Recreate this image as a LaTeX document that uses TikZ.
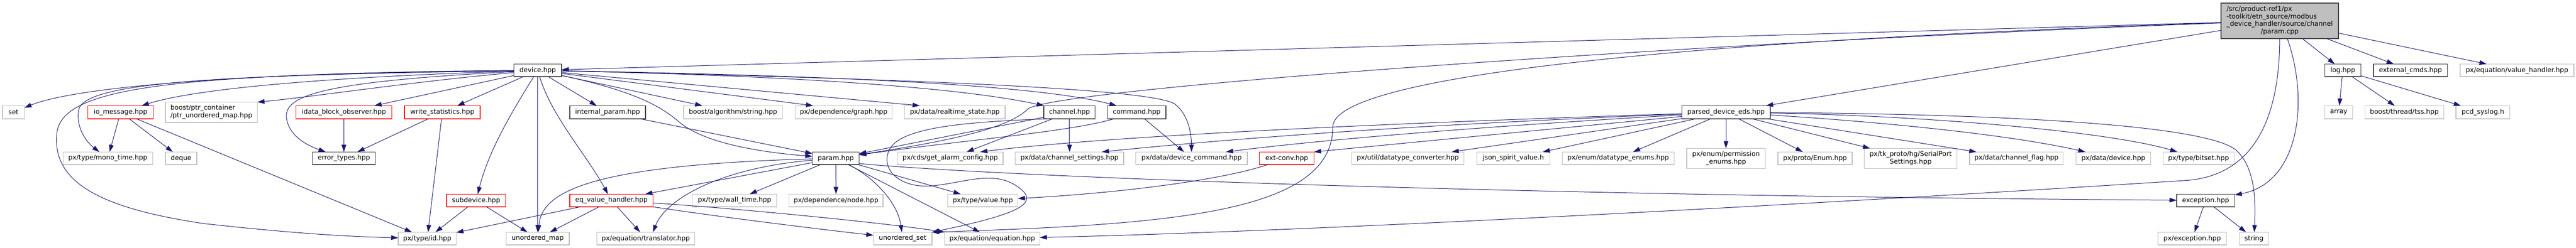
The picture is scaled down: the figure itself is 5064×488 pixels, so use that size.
\documentclass[tikz,border=0pt]{standalone}
\usepackage{fontspec}
\setmainfont{DejaVu Sans}[Ligatures=NoCommon]
\usetikzlibrary{arrows.meta,calc}
\definecolor{midblue}{HTML}{191970}
\definecolor{gborder}{HTML}{BFBFBF}
\definecolor{dborder}{HTML}{404040}
\definecolor{mainfill}{HTML}{BFBFBF}
\newcommand\mknode[7]{%
  \pgfmathsetmacro\cxx{(#3+#4)/2}%
  \pgfmathsetmacro\cyy{(#5+#6)/2}%
  \pgfmathsetmacro\www{#4-#3}%
  \pgfmathsetmacro\hhh{#6-#5}%
  \node[#1,minimum width=\www pt,minimum height=\hhh pt] (#2) at (\cxx,\cyy) {#7};}
\newcommand\twol[2]{\begin{tabular}{@{}l@{}}#1\\\multicolumn{1}{@{}c@{}}{#2}\end{tabular}}
\tikzset{
  basenode/.style={rectangle,inner sep=0pt,outer sep=0pt,line width=1.3pt,font=\fontsize{13}{15}\selectfont,text=black},
  extnode/.style={basenode,draw=gborder,fill=white},
  docnode/.style={basenode,draw=dborder,fill=white},
  trnode/.style={basenode,draw=red,fill=white},
  mainnode/.style={basenode,draw=dborder,fill=mainfill},
  dep/.style={draw=midblue,line width=1pt,-{Triangle[length=14pt,width=9pt]}}
}
\begin{document}
\begin{tikzpicture}[x=1pt,y=-1pt]
\fill[white] (0,0) rectangle (5064,488);
\useasboundingbox (0,0) rectangle (5064,488);
% edges drawn after nodes via layers: draw nodes first, edges, then nodes on top is unnecessary
% ---- row A
\mknode{mainnode}{main}{4366}{4597}{6}{76}{\begin{tabular}{@{}l@{}}/src/product-ref1/px\\-toolkit/etn\_source/modbus\\\_device\_handler/source/channel\\\multicolumn{1}{@{}c@{}}{/param.cpp}\end{tabular}}
% ---- row B
\mknode{docnode}{device}{1010}{1104}{126}{151}{device.hpp}
\mknode{docnode}{log}{4570}{4641}{126}{151}{log.hpp}
\mknode{docnode}{extcmds}{4666}{4811}{126}{151}{external\_cmds.hpp}
\mknode{extnode}{valh}{4836}{5060}{126}{151}{px/equation/value\_handler.hpp}
% ---- row C
\mknode{extnode}{set}{5}{48}{208}{234}{set}
\mknode{trnode}{iomsg}{173}{301}{208}{234}{io\_message.hpp}
\mknode{extnode}{ptr}{325}{506}{201}{241}{\twol{boost/ptr\_container}{/ptr\_unordered\_map.hpp}}
\mknode{trnode}{idata}{582}{770}{208}{234}{idata\_block\_observer.hpp}
\mknode{trnode}{wstat}{795}{944}{208}{234}{write\_statistics.hpp}
\mknode{docnode}{iparam}{1120}{1269}{208}{234}{internal\_param.hpp}
\mknode{extnode}{bstr}{1344}{1538}{208}{234}{boost/algorithm/string.hpp}
\mknode{extnode}{graph}{1563}{1754}{208}{234}{px/dependence/graph.hpp}
\mknode{extnode}{rts}{1778}{1976}{208}{234}{px/data/realtime\_state.hpp}
\mknode{docnode}{channel}{2052}{2153}{208}{234}{channel.hpp}
\mknode{docnode}{command}{2177}{2292}{208}{234}{command.hpp}
\mknode{docnode}{parsed}{3306}{3480}{208}{234}{parsed\_device\_eds.hpp}
\mknode{extnode}{array}{4570}{4625}{208}{234}{array}
\mknode{extnode}{tss}{4649}{4804}{208}{234}{boost/thread/tss.hpp}
\mknode{extnode}{syslog}{4828}{4934}{208}{234}{pcd\_syslog.h}
% ---- row D
\mknode{extnode}{mono}{124}{300}{299}{324}{px/type/mono\_time.hpp}
\mknode{extnode}{deque}{325}{387}{299}{324}{deque}
\mknode{docnode}{errt}{614}{738}{299}{324}{error\_types.hpp}
\mknode{docnode}{param}{1597}{1689}{299}{324}{param.hpp}
\mknode{extnode}{gac}{1764}{1972}{299}{324}{px/cds/get\_alarm\_config.hpp}
\mknode{extnode}{chs}{1996}{2209}{299}{324}{px/data/channel\_settings.hpp}
\mknode{extnode}{dcmd}{2233}{2452}{299}{324}{px/data/device\_command.hpp}
\mknode{trnode}{extconv}{2476}{2583}{299}{324}{ext-conv.hpp}
\mknode{extnode}{dtc}{2657}{2878}{299}{324}{px/util/datatype\_converter.hpp}
\mknode{extnode}{json}{2903}{3047}{299}{324}{json\_spirit\_value.h}
\mknode{extnode}{dte}{3071}{3291}{299}{324}{px/enum/datatype\_enums.hpp}
\mknode{extnode}{perm}{3316}{3470}{292}{332}{\twol{px/enum/permission}{\_enums.hpp}}
\mknode{extnode}{penum}{3495}{3641}{299}{324}{px/proto/Enum.hpp}
\mknode{extnode}{serial}{3665}{3847}{292}{332}{\twol{px/tk\_proto/hg/SerialPort}{Settings.hpp}}
\mknode{extnode}{chflag}{3872}{4056}{299}{324}{px/data/channel\_flag.hpp}
\mknode{extnode}{pdev}{4081}{4228}{299}{324}{px/data/device.hpp}
\mknode{extnode}{bitset}{4252}{4392}{299}{324}{px/type/bitset.hpp}
% ---- row E
\mknode{trnode}{subdev}{878}{994}{382}{407}{subdevice.hpp}
\mknode{trnode}{eqvh}{1120}{1284}{382}{407}{eq\_value\_handler.hpp}
\mknode{extnode}{wall}{1361}{1527}{382}{407}{px/type/wall\_time.hpp}
\mknode{extnode}{dnode}{1551}{1736}{382}{407}{px/dependence/node.hpp}
\mknode{extnode}{value}{1863}{2001}{382}{407}{px/type/value.hpp}
\mknode{docnode}{exc}{4279}{4393}{382}{407}{exception.hpp}
% ---- row F
\mknode{extnode}{pxid}{783}{897}{457}{482}{px/type/id.hpp}
\mknode{extnode}{umap}{995}{1119}{457}{482}{unordered\_map}
\mknode{extnode}{transl}{1173}{1366}{457}{482}{px/equation/translator.hpp}
\mknode{extnode}{uset}{1717}{1832}{457}{482}{unordered\_set}
\mknode{extnode}{equ}{1857}{2044}{457}{482}{px/equation/equation.hpp}
\mknode{extnode}{pxexc}{4242}{4377}{457}{482}{px/exception.hpp}
\mknode{extnode}{string}{4402}{4460}{457}{482}{string}

% ================= edges
% main
\draw[dep] (main) -- (device);
\draw[dep] (main) .. controls (3300,85) and (2060,175) .. (2020,215) .. controls (1980,255) and (1850,280) .. (param);
\draw[dep] (main) .. controls (3300,80) and (2620,150) .. (2620,250) .. controls (2620,420) and (2300,442) .. (uset.north east);
\draw[dep] (main) -- (parsed);
\draw[dep] (main.south) .. controls (4481,250) and (4420,345) .. (4300,355) .. controls (3600,400) and (2600,455) .. (equ);
\draw[dep] ($(main.south)+(15,0)$) .. controls (4540,200) and (4520,360) .. (exc);
\draw[dep] (main) -- (log);
\draw[dep] (main) -- (extcmds);
\draw[dep] (main) -- (valh);
\draw[dep] (log) -- (array);
\draw[dep] (log) -- (tss);
\draw[dep] (log) -- (syslog);
\draw[dep] (exc) -- (pxexc);
\draw[dep] (exc) -- (string);
% parsed
\draw[dep] (parsed) .. controls (2800,240) and (2200,265) .. ($(gac.north east)+(-45,0)$);
\draw[dep] (parsed) .. controls (2800,245) and (2450,270) .. ($(chs.north east)+(-43,0)$);
\draw[dep] (parsed) .. controls (2900,250) and (2600,275) .. ($(dcmd.north east)+(-42,0)$);
\draw[dep] (parsed) -- (extconv.north east);
\draw[dep] (parsed) -- (dtc);
\draw[dep] (parsed) -- (json);
\draw[dep] (parsed) -- (dte);
\draw[dep] (parsed) -- (perm);
\draw[dep] (parsed) -- (penum);
\draw[dep] (parsed) -- (serial);
\draw[dep] (parsed) -- (chflag);
\draw[dep] (parsed) .. controls (3700,240) and (3950,265) .. (pdev);
\draw[dep] (parsed) .. controls (3800,228) and (4150,260) .. (bitset);
\draw[dep] (parsed) .. controls (4000,225) and (4340,250) .. (4395,295) .. controls (4435,330) and (4434,400) .. (string);
\draw[dep] (extconv) .. controls (2400,355) and (2200,380) .. (value);
% device
\draw[dep] (device) .. controls (500,142) and (150,170) .. (set);
\draw[dep] (device) .. controls (700,150) and (400,170) .. (iomsg);
\draw[dep] (device) .. controls (800,162) and (620,190) .. (ptr.north east);
\draw[dep] (device) -- (idata);
\draw[dep] (device) -- (wstat);
\draw[dep] (device) .. controls (450,148) and (170,160) .. (155,215) .. controls (148,250) and (170,280) .. (mono);
\draw[dep] (device) .. controls (350,146) and (125,170) .. (112,260) .. controls (100,360) and (200,410) .. (400,440) .. controls (600,462) and (700,466) .. (pxid);
\draw[dep] (device) .. controls (650,160) and (560,185) .. (563,230) .. controls (566,265) and (600,285) .. (errt);
\draw[dep] (device) .. controls (1000,230) and (960,300) .. (subdev);
\draw[dep] (device) -- (umap);
\draw[dep] (device) .. controls (1085,230) and (1150,300) .. (eqvh);
\draw[dep] (device) -- (iparam);
\draw[dep] (device) .. controls (1250,180) and (1300,210) .. (1335,240) .. controls (1385,283) and (1500,300) .. (param);
\draw[dep] (device) -- (bstr);
\draw[dep] (device) -- ($(graph.north)+(-60,0)$);
\draw[dep] (device) -- ($(rts.north)+(-69,0)$);
\draw[dep] (device) .. controls (1600,150) and (1900,175) .. (channel.north west);
\draw[dep] (device) .. controls (1700,150) and (2050,170) .. ($(command.north west)+(18,0)$);
\draw[dep] (device) .. controls (1900,158) and (2270,178) .. (2310,205) .. controls (2335,225) and (2342,260) .. (dcmd);
\draw[dep] (iparam) -- (param);
% param
\draw[dep] (param) .. controls (1150,325) and (1065,380) .. (umap);
\draw[dep] (param) .. controls (1420,330) and (1310,390) .. ($(transl.north)+(14,0)$);
\draw[dep] (param) -- (eqvh);
\draw[dep] (param) -- (wall);
\draw[dep] (param) -- (dnode);
\draw[dep] (param) -- (value);
\draw[dep] (param) .. controls (1720,350) and (1765,400) .. (uset);
\draw[dep] (param) -- (equ);
\draw[dep] ($(param.south east)+(0,-2)$) .. controls (2000,350) and (3000,385) .. (exc);
% channel, command
\draw[dep] (channel) -- (param);
\draw[dep] (channel) -- (gac);
\draw[dep] (channel) -- (chs);
\draw[dep] ($(channel.south west)+(5,0)$) .. controls (1900,240) and (1770,250) .. (1748,295) .. controls (1730,335) and (1770,370) .. (1830,366) .. controls (1900,360) and (1960,330) .. (2010,375) .. controls (2035,400) and (2010,420) .. (uset.north east);
\draw[dep] (command) .. controls (2100,260) and (1900,275) .. (param);
\draw[dep] (command) -- (dcmd);
% eq_value_handler
\draw[dep] (eqvh) -- (pxid);
\draw[dep] (eqvh) -- (umap);
\draw[dep] (eqvh) -- (transl);
\draw[dep] (eqvh) .. controls (1400,425) and (1600,450) .. (uset);
\draw[dep] (eqvh) .. controls (1450,410) and (1750,440) .. (equ.north west);
% others
\draw[dep] (iomsg) -- (mono);
\draw[dep] (iomsg) -- (deque);
\draw[dep] (iomsg) -- (pxid);
\draw[dep] (idata) -- (errt);
\draw[dep] (wstat) -- (errt);
\draw[dep] (wstat) -- (pxid);
\draw[dep] (subdev) -- (pxid);
\draw[dep] (subdev) -- (umap);
\end{tikzpicture}
\end{document}
